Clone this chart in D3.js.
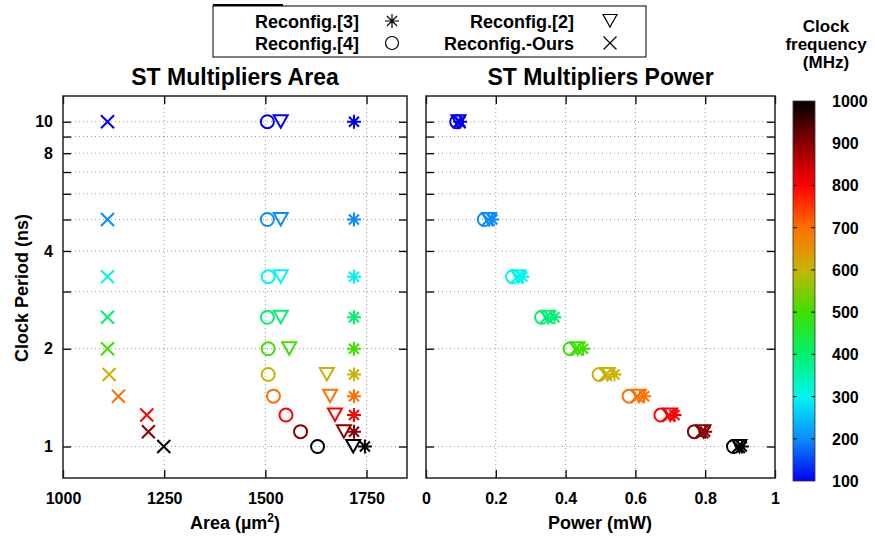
<!DOCTYPE html>
<html>
<head>
<meta charset="utf-8">
<script src="https://cdn.jsdelivr.net/npm/d3@7"></script>
<style>
  body { margin: 0; background: #fff; }
  text { font-family: "Liberation Sans", Arial, Helvetica, sans-serif; font-weight: bold; fill: #000; }
</style>
</head>
<body>
<div id="chart"></div>
<script>
// clock frequency (MHz) and clock period (ns)
var freqs   = [100, 200, 300, 400, 500, 600, 700, 800, 900, 1000];
var periods = [10, 5, 3.333, 2.5, 2, 1.667, 1.429, 1.25, 1.111, 1];

// area (um^2) per design
var areaOurs = [1110, 1110, 1110, 1110, 1110, 1114, 1137, 1207, 1211, 1249];
var area4    = [1505, 1505, 1507, 1505, 1507, 1507, 1520, 1551, 1587, 1629];
var area2    = [1538, 1538, 1538, 1538, 1559, 1652, 1660, 1672, 1694, 1717];
var area3    = [1719, 1719, 1719, 1719, 1719, 1719, 1719, 1719, 1719, 1746];

// power (mW) per design
var powerOurs = [0.095, 0.178, 0.262, 0.345, 0.430, 0.515, 0.605, 0.695, 0.790, 0.895];
var power4    = [0.088, 0.167, 0.248, 0.331, 0.413, 0.496, 0.582, 0.673, 0.769, 0.881];
var power2    = [0.093, 0.181, 0.265, 0.350, 0.435, 0.520, 0.610, 0.700, 0.795, 0.898];
var power3    = [0.098, 0.190, 0.276, 0.368, 0.450, 0.540, 0.625, 0.712, 0.800, 0.905];

var yTicks = [1, 2, 4, 8, 10];
var yGrid = [1, 2, 3, 4, 5, 6, 7, 8, 9, 10];
var areaTicks = [1000, 1250, 1500, 1750];
var powerTicks = [0, 0.2, 0.4, 0.6, 0.8, 1];
var cbTicks = [100, 200, 300, 400, 500, 600, 700, 800, 900, 1000];

// colour map for frequency
var cmapStops = [100, 200, 300, 400, 500, 600, 700, 800, 900, 1000];
var cmapColors = ["#0000f0", "#0a8cff", "#00f5f0", "#00f070", "#3ee000",
                  "#c8b400", "#ff7000", "#ff0000", "#8b0000", "#000000"];
var color = d3.scaleLinear().domain(cmapStops).range(cmapColors).interpolate(d3.interpolateRgb);

var W = 875, H = 539;
var svg = d3.select("#chart").append("svg")
  .attr("width", W).attr("height", H);

var plotTop = 96, plotBottom = 478;
var y = d3.scaleLog().domain([0.8, 12]).range([plotBottom, plotTop]);

// marker shapes
var markers = {
  ours: "M-6.5,-6.5L6.5,6.5M-6.5,6.5L6.5,-6.5",
  r3: "M-7,0H7M0,-7V7M-5,-5L5,5M-5,5L5,-5",
  r2: "M-7,-6.5H7L0,6Z",
  r4: "M6.5,0A6.5,6.5 0 1,1 -6.5,0A6.5,6.5 0 1,1 6.5,0Z"
};

function styleText(a) {
  a.selectAll("text").style("font-size", "16px")
    .style("font-family", "Liberation Sans").style("font-weight", "bold").attr("fill", "#000");
}

function panel(x0, x1, domain, ticks, fmt, series, title, showY) {
  var x = d3.scaleLinear().domain(domain).range([x0, x1]);
  var g = svg.append("g");

  // dotted grid
  g.selectAll(".hg").data(yGrid).enter().append("line")
    .attr("x1", x0).attr("x2", x1)
    .attr("y1", d => y(d)).attr("y2", d => y(d))
    .attr("stroke", "#999").attr("stroke-width", 1).attr("stroke-dasharray", "1,3");
  g.selectAll(".vg").data(ticks.filter(t => t > domain[0] && t < domain[1])).enter().append("line")
    .attr("x1", d => x(d)).attr("x2", d => x(d))
    .attr("y1", plotTop).attr("y2", plotBottom)
    .attr("stroke", "#999").attr("stroke-width", 1).attr("stroke-dasharray", "1,3");

  // axes (ticks inward, mirrored)
  var tl = 8;
  g.append("g").attr("transform", "translate(0," + plotBottom + ")")
    .call(d3.axisBottom(x).tickValues(ticks).tickSize(-tl).tickFormat(fmt).tickPadding(15))
    .call(a => a.select(".domain").remove())
    .call(styleText);
  g.append("g").attr("transform", "translate(0," + plotTop + ")")
    .call(d3.axisTop(x).tickValues(ticks).tickSize(-tl).tickFormat(""))
    .call(a => a.select(".domain").remove());
  var ya = d3.axisLeft(y).tickValues(yGrid).tickSize(-tl)
    .tickFormat(d => showY && yTicks.indexOf(d) >= 0 ? d : "").tickPadding(10);
  g.append("g").attr("transform", "translate(" + x0 + ",0)")
    .call(ya)
    .call(a => a.select(".domain").remove())
    .call(styleText);
  g.append("g").attr("transform", "translate(" + x1 + ",0)")
    .call(d3.axisRight(y).tickValues(yGrid).tickSize(-tl).tickFormat(""))
    .call(a => a.select(".domain").remove());
  g.selectAll(".tick line").attr("stroke", "#000").attr("stroke-width", 1.3);

  // frame
  g.append("rect").attr("x", x0).attr("y", plotTop)
    .attr("width", x1 - x0).attr("height", plotBottom - plotTop)
    .attr("fill", "none").attr("stroke", "#222").attr("stroke-width", 1.5);

  // points
  series.forEach(function(s) {
    g.selectAll(null).data(s.values).enter().append("path")
      .attr("d", markers[s.key])
      .attr("transform", (d, i) => "translate(" + x(d) + "," + y(periods[i]) + ")")
      .attr("fill", "none")
      .attr("stroke", (d, i) => color(freqs[i]))
      .attr("stroke-width", 2);
  });

  g.append("text").attr("x", (x0 + x1) / 2).attr("y", 85)
    .attr("text-anchor", "middle").style("font-size", "23px").text(title);
  return g;
}

var left = panel(63, 407, [1000, 1850], areaTicks, d3.format("d"),
  [{key: "ours", values: areaOurs}, {key: "r4", values: area4},
   {key: "r2", values: area2}, {key: "r3", values: area3}],
  "ST Multipliers Area", true);
left.append("text").attr("x", 235).attr("y", 529).attr("text-anchor", "middle")
  .style("font-size", "18px")
  .html('Area (\u00b5m<tspan dy="-7" style="font-size:12px">2</tspan><tspan dy="7">)</tspan>');

var right = panel(426, 775, [0, 1], powerTicks, d => d === 0 || d === 1 ? d3.format("d")(d) : d3.format(".1f")(d),
  [{key: "ours", values: powerOurs}, {key: "r4", values: power4},
   {key: "r2", values: power2}, {key: "r3", values: power3}],
  "ST Multipliers Power", false);
right.append("text").attr("x", 600).attr("y", 529).attr("text-anchor", "middle")
  .style("font-size", "18px").text("Power (mW)");

// y axis label
svg.append("text")
  .attr("transform", "translate(28,288) rotate(-90)")
  .attr("text-anchor", "middle").style("font-size", "18px")
  .text("Clock Period (ns)");

// colour bar
var cb = d3.scaleLinear().domain([100, 1000]).range([481, 101]);
var defs = svg.append("defs");
var grad = defs.append("linearGradient").attr("id", "cbgrad")
  .attr("x1", 0).attr("y1", 1).attr("x2", 0).attr("y2", 0);
grad.selectAll("stop").data(cmapStops).enter().append("stop")
  .attr("offset", d => (d - 100) / 900)
  .attr("stop-color", d => color(d));
svg.append("rect").attr("x", 793).attr("y", 101).attr("width", 22).attr("height", 380)
  .attr("fill", "url(#cbgrad)").attr("stroke", "#333").attr("stroke-width", 0.8);
var cbInner = cbTicks.filter(d => d > 100 && d < 1000);
svg.selectAll(".cbtl").data(cbInner).enter().append("line")
  .attr("x1", 793).attr("x2", 797).attr("y1", d => cb(d)).attr("y2", d => cb(d))
  .attr("stroke", "#222").attr("stroke-width", 1.2);
svg.selectAll(".cbtr").data(cbInner).enter().append("line")
  .attr("x1", 811).attr("x2", 815).attr("y1", d => cb(d)).attr("y2", d => cb(d))
  .attr("stroke", "#222").attr("stroke-width", 1.2);
svg.selectAll(".cbl").data(cbTicks).enter().append("text")
  .attr("x", 832).attr("y", d => cb(d) + 6)
  .style("font-size", "16px").text(d => d);
["Clock", "frequency", "(MHz)"].forEach(function(t, i) {
  svg.append("text").attr("x", 826).attr("y", 32 + i * 18)
    .attr("text-anchor", "middle").style("font-size", "17px").text(t);
});

// legend
var lg = svg.append("g");
lg.append("rect").attr("x", 213).attr("y", 6).attr("width", 433).attr("height", 51)
  .attr("fill", "#fff").attr("stroke", "#000").attr("stroke-width", 1);
lg.append("line").attr("x1", 213).attr("x2", 283).attr("y1", 5).attr("y2", 5)
  .attr("stroke", "#000").attr("stroke-width", 2);
var legendItems = [
  {label: "Reconfig.[3]", key: "r3", tx: 359, mx: 392, cy: 21},
  {label: "Reconfig.[2]", key: "r2", tx: 574, mx: 610, cy: 21},
  {label: "Reconfig.[4]", key: "r4", tx: 359, mx: 392, cy: 43},
  {label: "Reconfig.-Ours", key: "ours", tx: 574, mx: 610, cy: 43}
];
legendItems.forEach(function(d) {
  lg.append("text").attr("x", d.tx).attr("y", d.cy + 6.5)
    .attr("text-anchor", "end").style("font-size", "18px").text(d.label);
  lg.append("path").attr("d", markers[d.key])
    .attr("transform", "translate(" + d.mx + "," + d.cy + ")")
    .attr("fill", "none").attr("stroke", "#000").attr("stroke-width", 1.2);
});
</script>
</body>
</html>
